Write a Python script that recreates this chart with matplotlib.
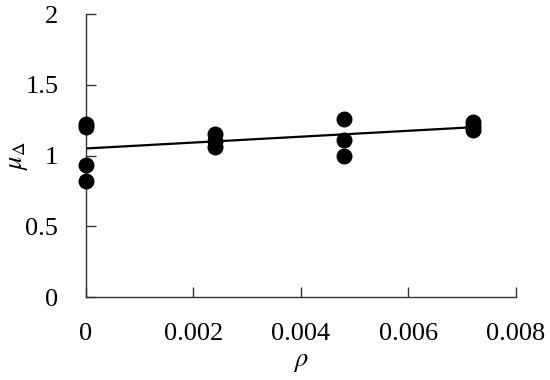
import numpy as np
import matplotlib
matplotlib.use("Agg")
import matplotlib.pyplot as plt

plt.rcParams['font.family'] = ['Liberation Serif', 'DejaVu Serif']
plt.rcParams['mathtext.fontset'] = 'stix'

# measured points
rho = [0, 0, 0, 0,
       0.0024, 0.0024, 0.0024,
       0.0048, 0.0048, 0.0048,
       0.0072, 0.0072, 0.0072]
mu = [1.22, 1.20, 0.93, 0.82,
      1.15, 1.10, 1.06,
      1.26, 1.11, 1.00,
      1.24, 1.21, 1.18]

# trend line (as drawn)
fit_x = [0, 0.0072]
fit_y = [1.05, 1.20]

xticks = [0, 0.002, 0.004, 0.006, 0.008]
xticklabels = ['0', '0.002', '0.004', '0.006', '0.008']
yticks = [0, 0.5, 1, 1.5, 2]
yticklabels = ['0', '0.5', '1', '1.5', '2']

fig = plt.figure(figsize=(5.5, 3.8), dpi=100)
ax = fig.add_axes([0.1564, 0.2184, 0.938 - 0.1564, 0.963 - 0.2184])

ax.plot(fit_x, fit_y, color='black', lw=1.6, zorder=2)
ax.scatter(rho, mu, s=110, color='black', zorder=3, clip_on=False)

ax.set_xlim(0, 0.008)
ax.set_ylim(0, 2)
ax.set_xticks(xticks)
ax.set_xticklabels(xticklabels)
ax.set_yticks(yticks)
ax.set_yticklabels(yticklabels)

for s in ['top', 'right']:
    ax.spines[s].set_visible(False)
for s in ['left', 'bottom']:
    ax.spines[s].set_linewidth(1.0)
    ax.spines[s].set_color('#333333')

ax.tick_params(direction='in', length=7, width=1.0, colors='#333333',
               labelsize=19, labelcolor='black')
ax.tick_params(axis='x', pad=19)
ax.tick_params(axis='y', pad=20)

ax.set_xlabel(r'$\rho$', fontsize=19, labelpad=5)
ax.set_ylabel(r'$\mu_\Delta$', fontsize=19)
ax.yaxis.set_label_coords(-0.13, 0.5)

fig.savefig('out.png', dpi=100)
